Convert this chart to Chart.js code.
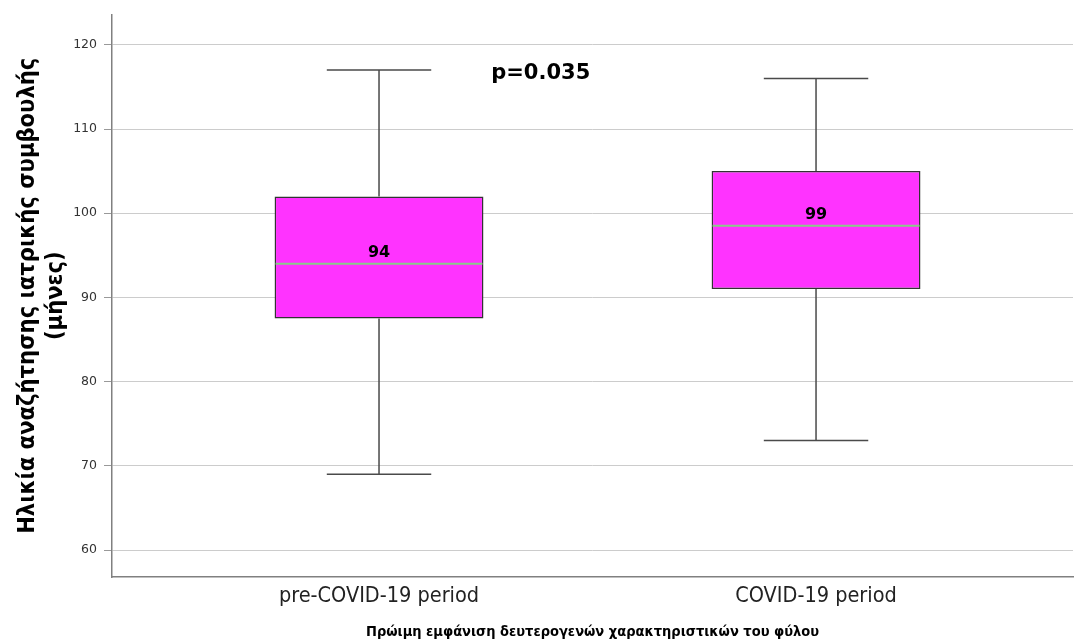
<!DOCTYPE html>
<html>
<head>
<meta charset="utf-8">
<script src="https://cdn.jsdelivr.net/npm/chart.js@4.4.0/dist/chart.umd.min.js"></script>
<style>
  html, body { margin: 0; padding: 0; background: #fff; }
  canvas { display: block; }
</style>
</head>
<body>
<canvas id="boxplot" width="1074" height="643"></canvas>
<script>
// box plot values
const categories = ['pre-COVID-19 period', 'COVID-19 period'];
const whiskerLow = [69, 73];
const q1 = [87.5, 91];
const medians = [94, 98.5];
const q3 = [102, 105];
const whiskerHigh = [117, 116];
const yTicks = [60, 70, 80, 90, 100, 110, 120];
const pValueText = 'p=0.035';

Chart.defaults.font.family = "'DejaVu Sans', sans-serif";
const condensed = "'DejaVu Sans Condensed', 'DejaVu Sans', sans-serif";

// whiskers, medians and text labels drawn on top of the bars
const boxExtras = {
    id: 'boxExtras',
    afterDatasetsDraw(chart) {
        const ctx = chart.ctx;
        const xs = chart.scales.x;
        const ys = chart.scales.y;
        const bars = chart.getDatasetMeta(0).data;

        ctx.save();
        bars.forEach((bar, i) => {
            const cx = bar.x;
            const halfBox = bar.width / 2;
            const halfCap = bar.width / 4;

            ctx.strokeStyle = '#4a4a4a';
            ctx.lineWidth = 1.5;
            ctx.beginPath();
            ctx.moveTo(cx, ys.getPixelForValue(q3[i]));
            ctx.lineTo(cx, ys.getPixelForValue(whiskerHigh[i]));
            ctx.moveTo(cx, ys.getPixelForValue(q1[i]));
            ctx.lineTo(cx, ys.getPixelForValue(whiskerLow[i]));
            ctx.moveTo(cx - halfCap, ys.getPixelForValue(whiskerHigh[i]));
            ctx.lineTo(cx + halfCap, ys.getPixelForValue(whiskerHigh[i]));
            ctx.moveTo(cx - halfCap, ys.getPixelForValue(whiskerLow[i]));
            ctx.lineTo(cx + halfCap, ys.getPixelForValue(whiskerLow[i]));
            ctx.stroke();

            // median line
            const my = ys.getPixelForValue(medians[i]);
            ctx.strokeStyle = '#88cc88';
            ctx.lineWidth = 2;
            ctx.beginPath();
            ctx.moveTo(cx - halfBox + 1, my);
            ctx.lineTo(cx + halfBox - 1, my);
            ctx.stroke();

            // median label
            ctx.fillStyle = '#000';
            ctx.font = "bold 16px 'DejaVu Sans'";
            ctx.textAlign = 'center';
            ctx.textBaseline = 'middle';
            ctx.fillText(String(Math.round(medians[i])), cx, my - 11);
        });

        // p value annotation
        ctx.fillStyle = '#000';
        ctx.font = "bold 21px 'DejaVu Sans'";
        ctx.textAlign = 'center';
        ctx.textBaseline = 'middle';
        ctx.fillText(pValueText, xs.getPixelForValue(0.37), ys.getPixelForValue(116.6));
        ctx.restore();
    }
};

const ctx = document.getElementById('boxplot').getContext('2d');
new Chart(ctx, {
    type: 'bar',
    data: {
        datasets: [{
            data: categories.map((c, i) => ({ x: i, y: [q1[i], q3[i]] })),
            backgroundColor: '#ff33ff',
            borderColor: '#333333',
            borderWidth: 1.5,
            borderSkipped: false,
            categoryPercentage: 1,
            barPercentage: 0.478
        }]
    },
    options: {
        responsive: false,
        animation: false,
        layout: {
            padding: { top: 14, right: 1, left: 0, bottom: 0 }
        },
        plugins: {
            legend: { display: false },
            tooltip: { enabled: false }
        },
        scales: {
            x: {
                type: 'linear',
                min: -0.611,
                max: 1.588,
                offset: false,
                grid: { display: false, drawTicks: false, offset: false },
                border: { display: true, color: '#808080', width: 1.5 },
                afterBuildTicks: (axis) => {
                    axis.ticks = categories.map((c, i) => ({ value: i }));
                },
                afterFit: (axis) => { axis.height = 66; },
                ticks: {
                    autoSkip: false,
                    maxRotation: 0,
                    padding: 7,
                    color: '#222',
                    font: { family: condensed, size: 21.5 },
                    callback: (value) => categories[value]
                },
                title: {
                    display: true,
                    text: 'Πρώιμη εμφάνιση δευτερογενών χαρακτηριστικών του φύλου',
                    color: '#000',
                    font: { family: condensed, size: 14.5, weight: 'bold' },
                    padding: { top: 0, bottom: 2 }
                }
            },
            y: {
                min: 56.8,
                max: 123.6,
                afterBuildTicks: (axis) => {
                    axis.ticks = yTicks.map(v => ({ value: v }));
                },
                afterFit: (axis) => { axis.width = 112; },
                grid: {
                    color: '#cccccc',
                    lineWidth: 1,
                    tickLength: 8,
                    tickColor: '#999999'
                },
                border: { display: true, color: '#808080', width: 1.5 },
                ticks: {
                    padding: 7,
                    color: '#333',
                    font: { size: 12.5 }
                },
                title: {
                    display: true,
                    text: ['Ηλικία αναζήτησης ιατρικής συμβουλής', '(μήνες)'],
                    color: '#000',
                    font: { family: condensed, size: 23.5, weight: 'bold' },
                    padding: { top: 14, bottom: 0 }
                }
            }
        }
    },
    plugins: [boxExtras]
});
</script>
</body>
</html>
